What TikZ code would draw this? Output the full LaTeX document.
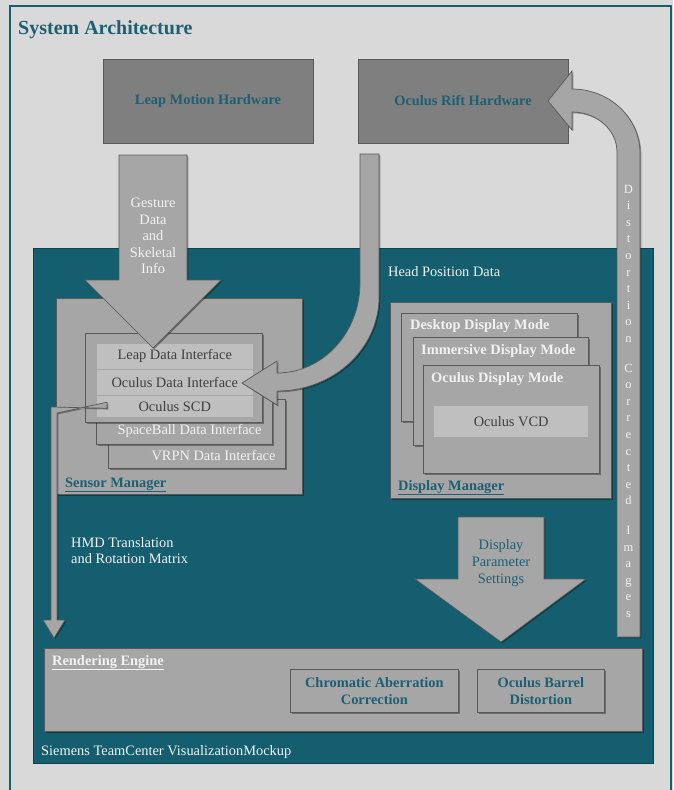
\documentclass[tikz,border=0pt]{standalone}
\usepackage{fontspec}
\setmainfont{Liberation Serif}
\usetikzlibrary{shadows}
\definecolor{bgl}{HTML}{D9D9D9}
\definecolor{tealbg}{HTML}{155E6F}
\definecolor{tealtxt}{HTML}{1D6074}
\definecolor{boxg}{HTML}{A6A6A6}
\definecolor{hwg}{HTML}{7F7F7F}
\definecolor{rowg}{HTML}{BFBFBF}
\definecolor{edgeg}{HTML}{595959}
\definecolor{dtxt}{HTML}{3F3F3F}
\definecolor{wtxt}{HTML}{F2F2F2}
\begin{document}
\begin{tikzpicture}[x=1pt,y=-1pt,
  font=\fontsize{14.4}{16.6}\selectfont,
  shd/.style={drop shadow={shadow xshift=1.3pt,shadow yshift=-1.3pt,opacity=0.35,fill=black}},
  box/.style={draw=edgeg, fill=boxg, line width=0.7pt, inner sep=0pt, anchor=north west, shd},
  hwbox/.style={draw=edgeg, fill=hwg, line width=0.7pt, inner sep=0pt, text=tealtxt, font=\fontsize{14.4}{16.6}\selectfont\bfseries},
  rowbox/.style={draw=black!35, fill=rowg, line width=0.5pt, inner sep=0pt, anchor=north west, text=dtxt},
  blockarrow/.style={draw=edgeg, fill=boxg, line width=0.7pt, line join=miter, shd},
  wlabel/.style={text=wtxt, inner sep=0pt},
  blabel/.style={text=wtxt, inner sep=0pt, font=\fontsize{14.4}{16.6}\selectfont\bfseries},
  tlabel/.style={text=tealtxt, inner sep=0pt, font=\fontsize{14.4}{16.6}\selectfont\bfseries},
  letter/.style={text=wtxt, inner sep=0pt, anchor=base, font=\fontsize{12.5}{14}\selectfont}]
\useasboundingbox (0,0) rectangle (673,790);
\fill[bgl] (0,0) rectangle (673,790);
\draw[tealbg, line width=2pt] (10,6) rectangle (671,800);

\node[anchor=base west, inner sep=0pt, text=tealtxt, font=\fontsize{20}{24}\selectfont\bfseries] (title) at (18,34) {System Architecture};

% hardware
\node[hwbox, minimum width=210pt, minimum height=84pt] (leap) at (208,101) {Leap Motion Hardware};
\node[hwbox, minimum width=210pt, minimum height=84pt] (rift) at (463,101) {Oculus Rift Hardware};

% visualization area
\node[fill=tealbg, draw=tealbg!70!black, line width=0.6pt, inner sep=0pt, anchor=north west, minimum width=620pt, minimum height=515pt] (vis) at (33,248) {};
\node[wlabel, anchor=base west] (siemens) at (41,755) {Siemens TeamCenter VisualizationMockup};
\node[wlabel, anchor=base west] (headpos) at (388,276) {Head Position Data};

% sensor manager
\node[box, minimum width=246pt, minimum height=196pt] (sensor) at (56,298) {};
\node[box, minimum width=177pt, minimum height=69pt] (vrpn) at (108,399) {};
\node[box, minimum width=176pt, minimum height=74pt] (spaceball) at (96,370) {};
\node[box, minimum width=177pt, minimum height=89pt] (front) at (85,333) {};
\node[rowbox, minimum width=157pt, minimum height=26pt] (leaprow) at (96,343) {Leap Data Interface};
\node[rowbox, minimum width=157pt, minimum height=26pt] (ocrow) at (96,369) {Oculus Data Interface};
\node[rowbox, minimum width=157pt, minimum height=22pt] (scdrow) at (96,395) {Oculus SCD};
\node[wlabel] (sbtext) at (189.5,431) {SpaceBall Data Interface};
\node[wlabel] (vrpntext) at (213.5,456) {VRPN Data Interface};
\node[tlabel, anchor=base west] (smlabel) at (65,487) {\underline{Sensor Manager}};

% display manager
\node[box, minimum width=221pt, minimum height=196pt] (display) at (390,302) {};
\node[box, minimum width=176pt, minimum height=108pt] (desktop) at (401,313) {};
\node[box, minimum width=175pt, minimum height=108pt] (immersive) at (413,337) {};
\node[box, minimum width=176pt, minimum height=108pt] (ocmode) at (423,365) {};
\node[fill=rowg, inner sep=0pt, anchor=north west, minimum width=154pt, minimum height=31pt, text=dtxt] (vcd) at (434,406) {Oculus VCD};
\node[blabel, anchor=base west] (desktoplbl) at (410,329) {Desktop Display Mode};
\node[blabel, anchor=base west] (immlbl) at (421,354) {Immersive Display Mode};
\node[blabel, anchor=base west] (oclbl) at (431,382) {Oculus Display Mode};
\node[tlabel, anchor=base west] (dmlabel) at (398,490) {\underline{Display Manager}};

% rendering engine
\node[box, minimum width=598pt, minimum height=83pt] (render) at (44,648) {};
\node[blabel, anchor=base west] (rlabel) at (52,665) {\underline{Rendering Engine}};
\node[box, minimum width=168pt, minimum height=43pt] (chroma) at (290,669) {};
\node[tlabel, align=center] (chromatxt) at (chroma.center) {Chromatic Aberration\\Correction};
\node[box, minimum width=127pt, minimum height=43pt] (barrel) at (477,669) {};
\node[tlabel, align=center] (barreltxt) at (barrel.center) {Oculus Barrel\\Distortion};

% HMD translation connector
\coordinate (hmdstart) at ([xshift=11pt,yshift=1pt]scdrow.west);
\draw[blockarrow] ([yshift=-3pt]hmdstart) -- (51,407) -- (51,620) -- (43,620) -- (54,638) -- (65,620) -- (57,620) -- (57,413) -- ([yshift=3pt]hmdstart) -- cycle;
\node[wlabel, align=left, anchor=north west] (hmdtxt) at (71,537) {HMD Translation\\and Rotation Matrix};

% gesture arrow
\draw[blockarrow] (119,155) -- (187,155) -- (187,280) -- (221,280) -- (153,348) -- (85,280) -- (119,280) -- cycle;
\node[wlabel, align=center] (gesttxt) at (153,236) {Gesture\\Data\\and\\Skeletal\\Info};

% head position arrow
\draw[blockarrow] (360,154) -- (360,283) .. controls (360,332.7) and (322.8,373) .. (277,373) -- (277,361) -- (242,383) -- (277,405) -- (277,391) .. controls (333.3,391) and (379,348.9) .. (379,297) -- (379,154) -- cycle;

% display parameter arrow
\draw[blockarrow] (458,517) -- (544,517) -- (544,579) -- (586,579) -- (501,642) -- (415,579) -- (458,579) -- cycle;
\node[text=tealtxt, inner sep=0pt, align=center] (dpstxt) at (501,563) {Display\\Parameter\\Settings};

% distortion corrected images arrow
\draw[blockarrow] (617,637) -- (617,152) .. controls (617,129.9) and (596.8,112) .. (572,112) -- (572,130) -- (548,101) -- (572,71) -- (572,89) .. controls (609.5,89) and (640,117.7) .. (640,153) -- (640,637) -- cycle;
\foreach \l/\yy [count=\i] in {D/193,i/209.6,s/226.2,t/242.8,o/259.4,r/276.0,t/292.6,i/309.2,o/325.8,n/342.4,C/372,o/388.6,r/405.2,r/421.8,e/438.4,c/455.0,t/471.6,e/488.2,d/504.8,I/534.4,m/551.0,a/567.6,g/584.2,e/600.8,s/617.4}
  \node[letter] (dl\i) at (628.5,\yy) {\l};
\end{tikzpicture}
\end{document}
